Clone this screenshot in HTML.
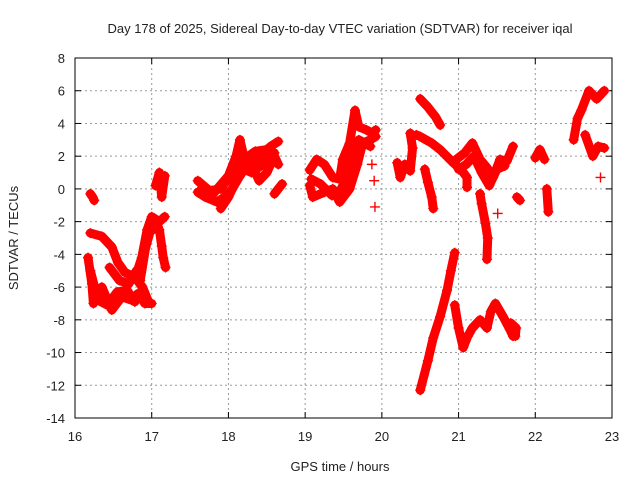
<!DOCTYPE html>
<html><head><meta charset="utf-8"><style>
body{margin:0;background:#fff}
svg text{font-family:"Liberation Sans",sans-serif;font-size:13px;fill:#222}
</style></head><body>
<svg id="c" width="640" height="480" xmlns="http://www.w3.org/2000/svg"></svg>
<script>
const xTicks=[16,17,18,19,20,21,22,23];
const yTicks=[8,6,4,2,0,-2,-4,-6,-8,-10,-12,-14];
const tracks=[
[[16.2,-0.3],[16.23,-0.5],[16.25,-0.7]],
[[16.2,-2.7],[16.35,-2.9],[16.48,-3.55],[16.56,-4.5],[16.65,-5.1],[16.78,-5.4],[16.88,-6],[16.95,-6.8]],
[[16.17,-4.2],[16.22,-5.8],[16.24,-7],[16.35,-6],[16.48,-7.4],[16.61,-6.6],[16.74,-6.8],[16.82,-6.4],[16.91,-7],[17.0,-7]],
[[16.2,-5],[16.3,-6.8],[16.42,-7.1],[16.55,-6.3],[16.68,-6.2],[16.78,-6.9]],
[[16.45,-4.8],[16.58,-5.6],[16.7,-5.8],[16.8,-5]],
[[16.8,-5.2],[16.87,-4.2],[16.94,-2.5],[17.0,-1.7],[17.1,-2],[17.17,-1.7]],
[[16.85,-5.6],[16.92,-3.6],[16.98,-2.6],[17.08,-2.3]],
[[17.1,-2.5],[17.13,-3.5],[17.15,-4.2],[17.18,-4.8]],
[[17.05,0.2],[17.1,1],[17.13,-0.5],[17.17,0.8]],
[[17.6,-0.2],[17.7,-0.5],[17.85,-0.8],[17.95,-0.5],[18.05,0],[18.15,0.8],[18.25,1.5],[18.35,1.8],[18.45,2.2],[18.55,2.6],[18.65,2.9]],
[[17.6,0.5],[17.8,-0.3],[18.0,0.8],[18.1,2],[18.15,3],[18.2,2],[18.3,1.5],[18.4,0.5],[18.5,1],[18.6,2],[18.65,1.5]],
[[17.9,-1.2],[18.0,-0.5],[18.1,0.5],[18.2,1.2],[18.3,1],[18.45,1.5],[18.6,2.2]],
[[17.65,0],[17.75,-0.1],[17.9,0],[18.05,1],[18.2,1.8],[18.35,2.3],[18.5,2.4]],
[[18.6,-0.3],[18.65,0],[18.7,0.3]],
[[19.06,1.15],[19.15,1.8],[19.25,1.5],[19.36,0.7],[19.45,0.6],[19.49,1.8],[19.58,2.8],[19.65,4.8],[19.7,3.8],[19.8,3.6],[19.88,3.4],[19.92,3.6]],
[[19.06,0.2],[19.1,-0.5],[19.25,-0.2],[19.36,0],[19.45,-0.8],[19.58,0],[19.68,1.5],[19.75,2.8],[19.85,3],[19.92,3.2]],
[[19.08,0.6],[19.2,0.3],[19.35,-0.4],[19.45,-0.2],[19.55,0.8],[19.62,2.2],[19.7,3],[19.85,2.6]],
[[19.87,1.5]],[[19.9,0.5]],[[19.91,-1.1]],
[[20.2,1.6],[20.24,0.7],[20.3,1.5],[20.37,1.1],[20.4,2.5],[20.37,3.4]],
[[20.5,5.5],[20.6,5],[20.7,4.4],[20.76,3.9]],
[[20.45,3.3],[20.5,3.2],[20.65,2.8],[20.76,2.4],[20.93,1.6],[21.03,1.2],[21.11,0.7],[21.11,0.1]],
[[20.56,1.2],[20.6,0.4],[20.65,-0.5],[20.67,-1.2]],
[[20.97,1.8],[21.08,2.2],[21.18,2.8],[21.28,1.8],[21.37,1.3],[21.45,0.7],[21.54,1.8],[21.63,1.7],[21.71,2.6]],
[[21.0,1.2],[21.1,1.5],[21.2,2],[21.3,1],[21.4,0.2],[21.5,1.2],[21.6,1.4]],
[[21.28,-0.3],[21.3,-0.9],[21.35,-2.1],[21.38,-3],[21.37,-4.3]],
[[21.51,-1.5]],[[21.76,-0.5],[21.8,-0.7]],
[[22.0,1.9],[22.06,2.4],[22.12,1.8]],[[22.15,0],[22.17,-1.4]],
[[20.5,-12.3],[20.6,-10.5],[20.67,-9.1],[20.76,-7.8],[20.85,-6.2],[20.9,-5],[20.95,-3.9]],
[[20.95,-7.1],[21.0,-8.5],[21.06,-9.7],[21.12,-9],[21.18,-8.5],[21.28,-8],[21.37,-8.5],[21.42,-7.5],[21.48,-7],[21.58,-7.8],[21.67,-8.6],[21.71,-9]],
[[21.68,-8.2],[21.75,-8.5],[21.74,-9]],
[[22.5,3],[22.55,4.3],[22.6,4.8],[22.7,6],[22.8,5.5],[22.9,6]],
[[22.65,3.3],[22.75,2],[22.82,2.6],[22.9,2.5]],[[22.85,0.7]]
];
const NS="http://www.w3.org/2000/svg";
const svg=document.getElementById('c');
const L=75,R=612,T=58,B=418;
const sx=v=>L+(v-16)/(23-16)*(R-L);
const sy=v=>T+(8-v)/(8+14)*(B-T);
function mk(tag,at){const e=document.createElementNS(NS,tag);for(const k in at)e.setAttribute(k,at[k]);svg.appendChild(e);return e;}
xTicks.forEach(t=>{
 const g=mk('line',{x1:sx(t),x2:sx(t),y1:T,y2:B,stroke:'#999','stroke-dasharray':'2,3'});
 
 
 const tx=mk('text',{x:sx(t),y:B+23,'text-anchor':'middle'});tx.textContent=t;
 
 
 mk('line',{x1:sx(t),x2:sx(t),y1:B,y2:B-6,stroke:'#000'});
 mk('line',{x1:sx(t),x2:sx(t),y1:T,y2:T+6,stroke:'#000'});
});
yTicks.forEach(t=>{
 const g=mk('line',{x1:L,x2:R,y1:sy(t),y2:sy(t),stroke:'#999','stroke-dasharray':'2,3'});
 
 
 const tx=mk('text',{x:L-10,y:sy(t)+5,'text-anchor':'end'});tx.textContent=t;
 
 
 mk('line',{x1:L,x2:L+6,y1:sy(t),y2:sy(t),stroke:'#000'});
 mk('line',{x1:R,x2:R-6,y1:sy(t),y2:sy(t),stroke:'#000'});
});
const fr=mk('rect',{x:L,y:T,width:R-L,height:B-T,fill:'none',stroke:'#000'});


tracks.forEach(tr=>{
 if(tr.length>1){
  const p=mk('polyline',{points:tr.map(d=>sx(d[0])+','+sy(d[1])).join(' '),fill:'none',stroke:'#f00','stroke-width':9,'stroke-linejoin':'round','stroke-linecap':'round'});
  
  
 }
 tr.forEach(d=>{
  const x=sx(d[0]),y=sy(d[1]);
  const m=mk('path',{d:`M${x-5},${y}h10M${x},${y-5}v10`,stroke:'#f00','stroke-width':1.4});
  
  
 });
});
const ti=mk('text',{x:340,y:33,'text-anchor':'middle'});ti.textContent='Day 178 of 2025, Sidereal Day-to-day VTEC variation (SDTVAR) for receiver iqal';


const xl=mk('text',{x:340,y:471,'text-anchor':'middle'});xl.textContent='GPS time / hours';


const yl=mk('text',{x:0,y:0,'text-anchor':'middle',transform:'translate(18,238) rotate(-90)'});yl.textContent='SDTVAR / TECUs';


</script>
</body></html>
